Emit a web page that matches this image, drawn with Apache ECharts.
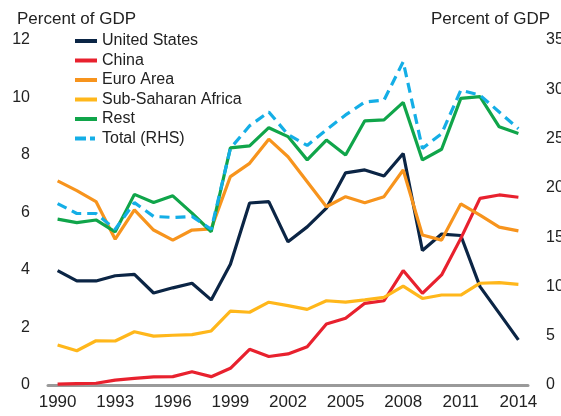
<!DOCTYPE html>
<html>
<head>
<meta charset="utf-8">
<script src="https://cdn.jsdelivr.net/npm/echarts@6/dist/echarts.min.js"></script>
<style>
html, body { margin: 0; padding: 0; background: #fff; }
#container { width: 561px; height: 416px; }
</style>
</head>
<body>
<div id="container"></div>
<script>
var years = ['1990','1991','1992','1993','1994','1995','1996','1997','1998','1999','2000','2001','2002',
	'2003','2004','2005','2006','2007','2008','2009','2010','2011','2012','2013','2014'];
// left axis, percent of GDP
var unitedStates = [3.98,3.62,3.62,3.8,3.85,3.2,3.38,3.54,2.96,4.2,6.33,6.38,4.98,5.5,6.15,7.38,7.48,7.27,8.05,4.68,5.25,5.2,3.42,2.5,1.57];
var china = [0.03,0.05,0.06,0.17,0.23,0.28,0.29,0.46,0.29,0.58,1.24,0.99,1.08,1.33,2.12,2.32,2.84,2.93,3.98,3.19,3.83,5.1,6.49,6.61,6.53];
var euroArea = [7.1,6.76,6.38,5.07,6.09,5.39,5.04,5.39,5.43,7.25,7.71,8.55,7.94,7.07,6.2,6.55,6.34,6.55,7.48,5.22,5.04,6.3,5.91,5.49,5.36];
var subSaharan = [1.39,1.19,1.54,1.53,1.85,1.7,1.73,1.75,1.88,2.57,2.53,2.88,2.76,2.63,2.93,2.88,2.96,3.05,3.44,3.01,3.13,3.13,3.54,3.56,3.5];
var rest = [5.77,5.65,5.74,5.33,6.63,6.35,6.58,5.98,5.33,8.25,8.32,8.95,8.64,7.83,8.52,8.0,9.19,9.22,9.83,7.83,8.2,9.97,10.03,8.98,8.75];
// right axis
var total = [18.4,17.4,17.4,15.8,18.5,17.1,17.0,17.1,15.8,24.0,26.3,27.7,25.4,24.3,25.9,27.4,28.7,28.9,32.8,24.0,25.5,29.9,29.4,27.7,26.0];

var font = 'Liberation Sans, Arial, sans-serif';
var solidIcon = 'path://M0,0h22v4h-22z';
var dashIcon = 'path://M0,0h11v4h-11z M15,0h5v4h-5z M22,0h0.01v4h-0.01z';
var myChart = echarts.init(document.getElementById('container'), null, { renderer: 'canvas' });

function line(name, data, color, axis, dash) {
	return {
		name: name,
		type: 'line',
		yAxisIndex: axis,
		data: data,
		showSymbol: false,
		symbol: 'none',
		lineStyle: { color: color, width: 3.2, type: dash || 'solid' },
		itemStyle: { color: color }
	};
}

var option = {
	animation: false,
	title: [
		{ text: 'Percent of GDP', left: 12, top: 6, textStyle: { fontFamily: font, fontSize: 17, fontWeight: 'normal', color: '#222' } },
		{ text: 'Percent of GDP', left: 426, top: 6, textStyle: { fontFamily: font, fontSize: 17, fontWeight: 'normal', color: '#222' } }
	],
	legend: {
		orient: 'vertical',
		left: 70,
		top: 28,
		itemWidth: 22,
		itemHeight: 4,
		itemGap: 3.5,
		textStyle: { fontFamily: font, fontSize: 16, color: '#222', lineHeight: 16 },
		data: [
			{ name: 'United States', icon: solidIcon },
			{ name: 'China', icon: solidIcon },
			{ name: 'Euro Area', icon: solidIcon },
			{ name: 'Sub-Saharan Africa', icon: solidIcon },
			{ name: 'Rest', icon: solidIcon },
			{ name: 'Total (RHS)', icon: dashIcon }
		]
	},
	grid: { left: 48, right: 33, top: 40, bottom: 31, outerBoundsMode: 'none' },
	xAxis: {
		type: 'category',
		data: years,
		boundaryGap: true,
		axisLine: { lineStyle: { color: '#9a9a9a', width: 3 } },
		axisTick: { show: false },
		axisLabel: { interval: 2, fontFamily: font, fontSize: 17, color: '#222', margin: 9 }
	},
	yAxis: [
		{
			type: 'value', min: 0, max: 12, interval: 2,
			splitLine: { show: false },
			axisLine: { show: false },
			axisTick: { show: false },
			axisLabel: { fontFamily: font, fontSize: 16, color: '#222', margin: 18 }
		},
		{
			type: 'value', min: 0, max: 35, interval: 5,
			splitLine: { show: false },
			axisLine: { show: false },
			axisTick: { show: false },
			axisLabel: { fontFamily: font, fontSize: 16, color: '#222', margin: 18 }
		}
	],
	series: [
		line('United States', unitedStates, '#0b2545', 0),
		line('China', china, '#e8212e', 0),
		line('Euro Area', euroArea, '#f7941d', 0),
		line('Sub-Saharan Africa', subSaharan, '#ffb71b', 0),
		line('Rest', rest, '#10a54a', 0),
		line('Total (RHS)', total, '#14aee6', 1, [10, 6])
	]
};
myChart.setOption(option);
</script>
</body>
</html>
